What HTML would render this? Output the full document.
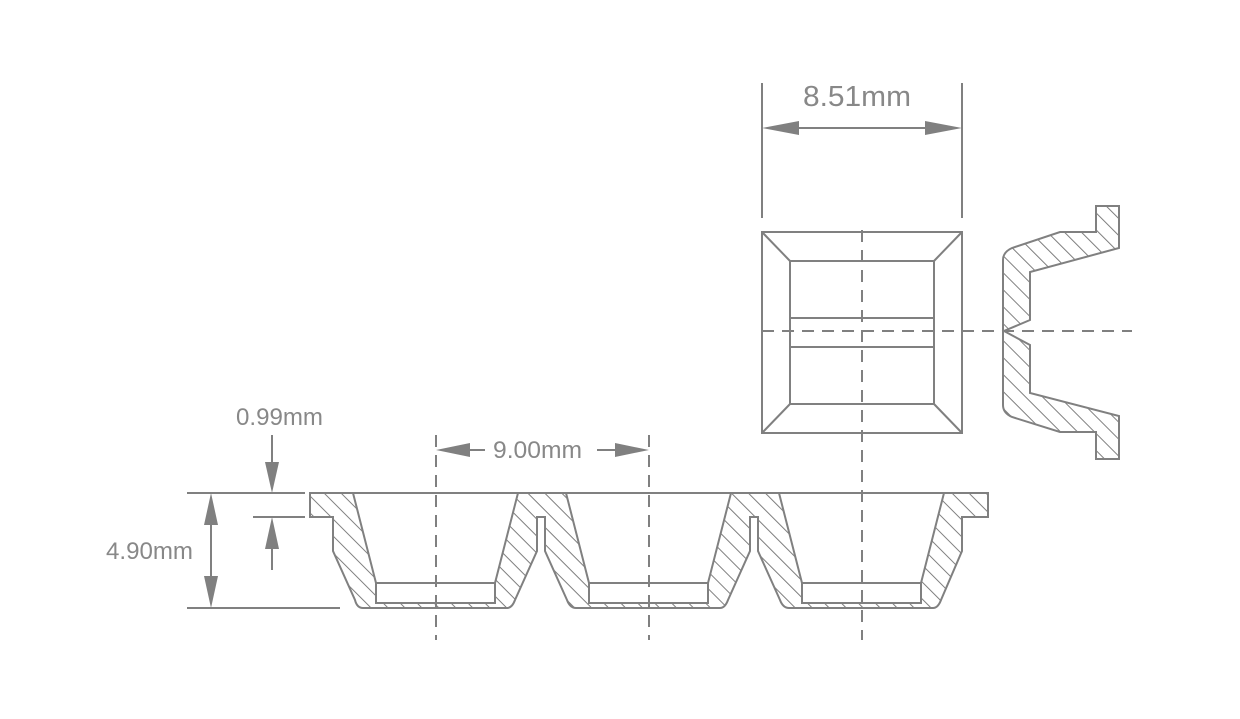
<!DOCTYPE html>
<html><head><meta charset="utf-8"><style>html,body{margin:0;padding:0;background:#fff}svg{display:block}</style></head><body>
<svg width="1240" height="719" viewBox="0 0 1240 719" xmlns="http://www.w3.org/2000/svg">
<defs>
<pattern id="h" patternUnits="userSpaceOnUse" width="12" height="12" patternTransform="rotate(-45)">
<line x1="0" y1="0" x2="0" y2="12" stroke="#7f7f7f" stroke-width="2"/>
</pattern>
</defs>
<g fill="none" stroke="#808080" stroke-width="2" font-family="Liberation Sans, sans-serif">
<path fill="url(#h)" d="M310,493 H988 V517 H962 V551 L941,600 Q938,608 933,608 H789 Q783,608 780,600 L758,551 V517 H750 V551 L728,600 Q725,608 720,608 H576 Q570,608 567,600 L545,551 V517 H537 V551 L515,600 Q512,608 507,608 H363 Q357,608 355,600 L333,551 V517 H310 Z"/>
<g fill="#fff">
<path d="M353,493 L518,493 L495,583 V603 H376 V583 Z"/>
<path d="M566,493 L731,493 L708,583 V603 H589 V583 Z"/>
<path d="M779,493 L944,493 L921,583 V603 H802 V583 Z"/>
</g>
<line x1="376" y1="583" x2="495" y2="583"/>
<line x1="589" y1="583" x2="708" y2="583"/>
<line x1="802" y1="583" x2="921" y2="583"/>
<path fill="url(#h)" d="M1096,206 H1119 V248 L1030,272 V320 L1004,331 L1030,345 V393 L1119,416 V459 H1096 V432 H1060 L1012,417 Q1003,413 1003,405 V260 Q1003,252 1012,248 L1060,232 H1096 Z"/>
<rect x="762" y="232" width="200" height="201"/>
<rect x="790" y="261" width="144" height="143"/>
<line x1="762" y1="232" x2="790" y2="261"/><line x1="962" y1="232" x2="934" y2="261"/>
<line x1="762" y1="433" x2="790" y2="404"/><line x1="962" y1="433" x2="934" y2="404"/>
<line x1="790" y1="318" x2="934" y2="318"/><line x1="790" y1="347" x2="934" y2="347"/>
<g stroke-dasharray="12,8">
<line x1="762" y1="331" x2="1132" y2="331"/>
<line x1="862" y1="230" x2="862" y2="640"/>
<line x1="436" y1="435" x2="436" y2="640"/>
<line x1="649" y1="435" x2="649" y2="640"/>
</g>
<line x1="762" y1="83" x2="762" y2="218"/><line x1="962" y1="83" x2="962" y2="218"/>
<line x1="790" y1="128" x2="935" y2="128"/>
<line x1="187" y1="493" x2="305" y2="493"/><line x1="187" y1="608" x2="340" y2="608"/>
<line x1="253" y1="517" x2="305" y2="517"/>
<line x1="211" y1="520" x2="211" y2="582"/>
<line x1="272" y1="435" x2="272" y2="465"/>
<line x1="272" y1="545" x2="272" y2="570"/>
<line x1="460" y1="450" x2="485" y2="450"/><line x1="597" y1="450" x2="625" y2="450"/>
</g>
<g fill="#808080">
<polygon points="762,128 799,121 799,135"/><polygon points="962,128 925,121 925,135"/>
<polygon points="211,493 204,525 218,525"/><polygon points="211,608 204,576 218,576"/>
<polygon points="272,493 265,462 279,462"/><polygon points="272,517 265,549 279,549"/>
<polygon points="436,450 470,443 470,457"/><polygon points="649,450 615,443 615,457"/>
</g>
<g fill="#888" font-family="Liberation Sans, sans-serif">
<text x="803" y="106" font-size="29" textLength="108" lengthAdjust="spacingAndGlyphs">8.51mm</text>
<text x="236" y="425" font-size="24" textLength="87" lengthAdjust="spacingAndGlyphs">0.99mm</text>
<text x="106" y="559" font-size="24" textLength="87" lengthAdjust="spacingAndGlyphs">4.90mm</text>
<text x="493" y="458" font-size="24" textLength="89" lengthAdjust="spacingAndGlyphs">9.00mm</text>
</g>
</svg>
</body></html>
